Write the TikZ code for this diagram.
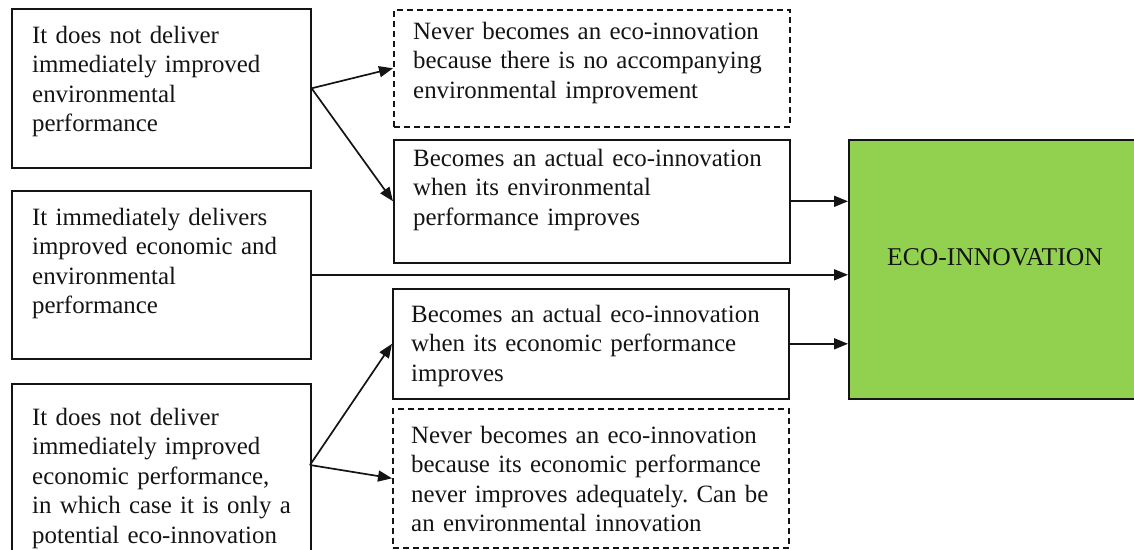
\documentclass[tikz,border=0pt]{standalone}
\usepackage{fontspec}
\setmainfont{Liberation Serif}
\usetikzlibrary{arrows.meta,calc}
\definecolor{ecogreen}{RGB}{146,208,80}
\definecolor{ink}{RGB}{20,20,20}
\frenchspacing
\begin{document}
\begin{tikzpicture}[x=1pt,y=-1pt,
  box/.style={draw=ink, line width=1.6pt, anchor=north west, inner sep=0pt},
  dbox/.style={box, dash pattern=on 6pt off 4pt},
  txt/.style={anchor=base west, inner sep=0pt, align=left, text=ink,
    font=\fontsize{24.9}{29.6}\selectfont},
  arr/.style={draw=ink, line width=1.7pt, -{Triangle[length=14pt,width=11pt]}}]
\useasboundingbox (0,0) rectangle (1134,549);
\clip (0,0) rectangle (1134,549);
% boxes
\node[box, minimum width=299pt, minimum height=159pt] (L1) at (11,8) {};
\node[box, minimum width=299pt, minimum height=168pt] (L2) at (11,190) {};
\node[box, minimum width=299pt, minimum height=180pt] (L3) at (11,383) {};
\node[dbox, minimum width=396pt, minimum height=117pt] (R1) at (393,9) {};
\node[box, minimum width=396pt, minimum height=123pt] (R2) at (393,139) {};
\node[box, minimum width=396pt, minimum height=110pt] (R3) at (392,288) {};
\node[dbox, minimum width=396pt, minimum height=139pt] (R4) at (392,408) {};
\node[box, fill=ecogreen, minimum width=300pt, minimum height=259pt] (G) at (848,139) {};
% texts
\node[txt, text width=275pt] (tL1) at (32,43) {It does not deliver\\immediately improved\\environmental\\performance};
\node[txt, text width=275pt] (tL2) at (32,225) {It immediately delivers\\improved economic and\\environmental\\performance};
\node[txt, text width=275pt] (tL3) at (32,425) {It does not deliver\\immediately improved\\economic performance,\\in which case it is only a\\potential eco-innovation};
\node[txt, text width=372pt] (tR1) at (413,39) {Never becomes an eco-innovation\\because there is no accompanying\\environmental improvement};
\node[txt, text width=372pt] (tR2) at (413,166) {Becomes an actual eco-innovation\\when its environmental\\performance improves};
\node[txt, text width=372pt] (tR3) at (411,322) {Becomes an actual eco-innovation\\when its economic performance\\improves};
\node[txt, text width=372pt] (tR4) at (411,443) {Never becomes an eco-innovation\\because its economic performance\\never improves adequately. Can be\\an environmental innovation};
\node[txt, anchor=center, font=\fontsize{25.6}{30}\selectfont] (tG) at (995,257) {ECO-INNOVATION};
% connectors
\coordinate (l3o) at (310,465);
\draw[arr] (L1.east) -- (R1.west);
\draw[arr] (L1.east) -- (R2.west);
\draw[arr] (R2.east) -- (R2.east -| G.west);
\draw[arr] (L2.east) -- (L2.east -| G.west);
\draw[arr] (R3.east) -- (R3.east -| G.west);
\draw[arr] (l3o) -- (R3.west);
\draw[arr] (l3o) -- (R4.west);
\end{tikzpicture}
\end{document}
